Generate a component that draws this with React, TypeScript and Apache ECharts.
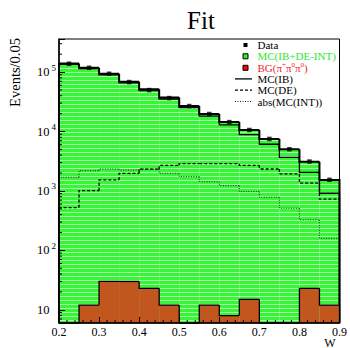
import { useEffect, useRef } from 'react';
import * as echarts from 'echarts';

const binLow = [0.2, 0.25, 0.3, 0.35, 0.4, 0.45, 0.5, 0.55, 0.6, 0.65, 0.7, 0.75, 0.8, 0.85];
const binWidth = 0.05;
const dataCounts = [138000, 118000, 93600, 67900, 49800, 36500, 26800, 19700, 14400, 10600, 7500, 5030, 3120, 1540];
const mcTotal = [139000, 118000, 93600, 68700, 51200, 37200, 26800, 19700, 14500, 10600, 7480, 5020, 3100, 1530];
const mcIB = [135000, 114000, 90100, 66100, 48900, 35200, 25300, 18200, 12900, 8830, 6100, 3680, 2060, 914];
const mcDE = [524, 1010, 1530, 1980, 2320, 2700, 2880, 2880, 2880, 2700, 2340, 1930, 1350, 726];
const mcINTabs = [1700, 2190, 2340, 2250, 2340, 1980, 1740, 1430, 1230, 973, 783, 512, 326, 160];
const bgCounts = [0, 12, 30, 30, 23, 12, 0, 12, 8, 15, 0, 0, 23, 12];

const X_MIN = 0.2;
const X_MAX = 0.9;
const Y_MIN = 6;
const Y_MAX = 3.6e5;
const FONT = '"Liberation Serif", "DejaVu Serif", serif';

function stepSeries(values: number[], o: { fill?: any; stroke: string; width: number; dash?: number[]; z: number }) {
  return {
    type: 'custom',
    coordinateSystem: 'cartesian2d',
    z: o.z,
    silent: true,
    clip: false,
    encode: { x: 0, y: 2 },
    data: values.map((v, i) => [binLow[i], binLow[i] + binWidth, v, i > 0 ? values[i - 1] : 0, i === values.length - 1 ? 1 : 0]),
    renderItem: (_p: any, api: any) => {
      const x0 = api.value(0), x1 = api.value(1), v = api.value(2), vp = api.value(3), last = api.value(4);
      const cl = (u: number) => Math.min(Math.max(u, Y_MIN), Y_MAX);
      const tl = api.coord([x0, cl(v)]);
      const tr = api.coord([x1, cl(v)]);
      const pl = api.coord([x0, cl(vp)]);
      const br = api.coord([x1, Y_MIN]);
      const children: any[] = [];
      if (o.fill && v > Y_MIN) {
        children.push({
          type: 'rect',
          shape: { x: tl[0], y: tl[1], width: tr[0] - tl[0], height: br[1] - tl[1] },
          style: { fill: o.fill, stroke: 'none' },
        });
      }
      const pts = [pl, tl, tr];
      if (last) pts.push(br);
      children.push({
        type: 'polyline',
        shape: { points: pts },
        style: { stroke: o.stroke, lineWidth: o.width, lineDash: o.dash || null, fill: 'none' },
      });
      return { type: 'group', children };
    },
  };
}

export default function App() {
  const ref = useRef<HTMLDivElement>(null);
  useEffect(() => {
    if (!ref.current) return;
    const chart = echarts.init(ref.current, undefined, { renderer: 'svg' });

    const cv = document.createElement('canvas');
    cv.width = 4;
    cv.height = 4;
    const ctx = cv.getContext('2d')!;
    ctx.fillStyle = '#36f536';
    ctx.fillRect(0, 0, 4, 4);
    ctx.fillStyle = '#a8fca8';
    ctx.fillRect(0, 0, 4, 1);
    const greenFill = { image: cv.toDataURL(), repeat: 'repeat', imageWidth: 4, imageHeight: 4 };

    const yMinor: number[] = [];
    for (let k = 0; k <= 5; k++) {
      for (let m = 2; m <= 9; m++) {
        const v = m * Math.pow(10, k);
        if (v > Y_MIN && v < Y_MAX) yMinor.push(v);
      }
    }
    const xMinor: number[] = [];
    for (let i = 11; i <= 44; i++) {
      if (i % 5 !== 0) xMinor.push(i * 0.02);
    }

    const legendRows = [45, 56.3, 67.8, 78.9, 90.2, 101.5];
    const mx = 245.5;
    const tx = 257.5;
    const lf = 11;

    chart.setOption({
      animation: false,
      backgroundColor: '#fff',
      grid: { left: 59, right: 7, top: 39, bottom: 25, show: true, borderColor: '#000', borderWidth: 1, z: 10 },
      xAxis: {
        type: 'value',
        min: X_MIN,
        max: X_MAX,
        interval: 0.1,
        z: 10,
        axisLine: { lineStyle: { color: '#000', width: 1.5 } },
        axisTick: { inside: true, length: 6, lineStyle: { color: '#000' } },
        axisLabel: { formatter: (v: number) => v.toFixed(1), color: '#000', fontFamily: FONT, fontSize: 12, margin: 3, lineHeight: 12 },
        splitLine: { show: false },
      },
      yAxis: {
        type: 'log',
        logBase: 10,
        min: Y_MIN,
        max: Y_MAX,
        z: 10,
        axisLine: { lineStyle: { color: '#000', width: 1.5 } },
        axisTick: { inside: true, length: 6, lineStyle: { color: '#000' } },
        axisLabel: {
          margin: 3,
          color: '#000',
          formatter: (v: number) => {
            const e = Math.log10(v);
            const r = Math.round(e);
            if (Math.abs(e - r) > 1e-6) return '';
            if (r === 1) return '{b|10}{s| }';
            return '{b|10}{s|' + r + '}';
          },
          rich: {
            b: { fontFamily: FONT, fontSize: 12.5, color: '#000' },
            s: { fontFamily: FONT, fontSize: 9, color: '#000', padding: [0, 0, 9, 1.5], width: 5 },
          },
        },
        splitLine: { show: false },
      },
      series: [
        stepSeries(mcTotal, { fill: greenFill, stroke: '#000', width: 2, z: 2 }),
        stepSeries(mcIB, { stroke: '#000', width: 1.3, z: 3 }),
        stepSeries(mcDE, { stroke: '#000', width: 1.3, dash: [3, 2], z: 3 }),
        stepSeries(mcINTabs, { stroke: '#222', width: 1, dash: [1, 1.5], z: 3 }),
        stepSeries(bgCounts, { fill: '#c2561f', stroke: '#000', width: 1.3, z: 4 }),
        {
          type: 'scatter',
          z: 5,
          silent: true,
          symbol: 'rect',
          symbolSize: 4.5,
          itemStyle: { color: '#000' },
          data: dataCounts.map((v, i) => [binLow[i] + binWidth / 2, v]),
        },
        {
          type: 'custom',
          z: 6,
          silent: true,
          clip: false,
          data: [[X_MIN, 10]],
          renderItem: (_p: any, api: any) => {
            const ch: any[] = [];
            yMinor.forEach((v) => {
              const c = api.coord([X_MIN, v]);
              ch.push({ type: 'line', shape: { x1: c[0], y1: c[1], x2: c[0] + 3, y2: c[1] }, style: { stroke: '#000', lineWidth: 1 } });
            });
            xMinor.forEach((x) => {
              const c = api.coord([x, Y_MIN]);
              ch.push({ type: 'line', shape: { x1: c[0], y1: c[1], x2: c[0], y2: c[1] - 3 }, style: { stroke: '#000', lineWidth: 1 } });
            });
            return { type: 'group', children: ch };
          },
        },
      ],
      graphic: [
        { type: 'text', x: 201, y: 20, style: { text: 'Fit', font: '25px ' + FONT, fill: '#000', align: 'center', verticalAlign: 'middle' } },
        { type: 'text', x: 15, y: 38, rotation: Math.PI / 2, style: { text: 'Events/0.05', font: '14.5px ' + FONT, fill: '#000', align: 'right', verticalAlign: 'middle' } },
        { type: 'text', x: 330, y: 342.5, style: { text: 'W', font: '12px ' + FONT, fill: '#000', align: 'center', verticalAlign: 'middle', lineHeight: 10 } },
        // legend
        { type: 'rect', z: 20, shape: { x: mx - 2, y: legendRows[0] - 2, width: 4, height: 4 }, style: { fill: '#000' } },
        { type: 'text', z: 20, x: tx, y: legendRows[0], style: { text: 'Data', font: lf + 'px ' + FONT, fill: '#000', verticalAlign: 'middle' } },
        { type: 'rect', z: 20, shape: { x: mx - 2.5, y: legendRows[1] - 2.5, width: 5, height: 5 }, style: { fill: '#2ef02e', stroke: '#000', lineWidth: 1 } },
        { type: 'text', z: 20, x: tx, y: legendRows[1], style: { text: 'MC(IB+DE-INT)', font: lf + 'px ' + FONT, fill: '#2ee82e', verticalAlign: 'middle' } },
        { type: 'rect', z: 20, shape: { x: mx - 2.5, y: legendRows[2] - 2.5, width: 5, height: 5 }, style: { fill: '#ff0000', stroke: '#000', lineWidth: 1 } },
        {
          type: 'text', z: 20, x: tx, y: legendRows[2],
          style: {
            text: '{a|BG(π}{s|+}{a|π}{s|0}{a|π}{s|0}{a|)}',
            fill: '#f01e1e',
            verticalAlign: 'middle',
            rich: {
              a: { fontFamily: FONT, fontSize: lf, fill: '#f01e1e' },
              s: { fontFamily: FONT, fontSize: 7, fill: '#f01e1e', padding: [0, 0, 6, 0] },
            },
          },
        },
        { type: 'line', z: 20, shape: { x1: 235, y1: legendRows[3], x2: 252, y2: legendRows[3] }, style: { stroke: '#000', lineWidth: 1.3 } },
        { type: 'text', z: 20, x: tx, y: legendRows[3], style: { text: 'MC(IB)', font: lf + 'px ' + FONT, fill: '#000', verticalAlign: 'middle' } },
        { type: 'line', z: 20, shape: { x1: 235, y1: legendRows[4], x2: 252, y2: legendRows[4] }, style: { stroke: '#000', lineWidth: 1.3, lineDash: [3, 2] } },
        { type: 'text', z: 20, x: tx, y: legendRows[4], style: { text: 'MC(DE)', font: lf + 'px ' + FONT, fill: '#000', verticalAlign: 'middle' } },
        { type: 'line', z: 20, shape: { x1: 235, y1: legendRows[5], x2: 252, y2: legendRows[5] }, style: { stroke: '#222', lineWidth: 1, lineDash: [1, 1.5] } },
        { type: 'text', z: 20, x: tx, y: legendRows[5], style: { text: 'abs(MC(INT))', font: lf + 'px ' + FONT, fill: '#000', verticalAlign: 'middle' } },
      ],
    });
    return () => chart.dispose();
  }, []);
  return <div ref={ref} style={{ width: 350, height: 348, position: 'absolute', left: 0, top: 0 }} />;
}
